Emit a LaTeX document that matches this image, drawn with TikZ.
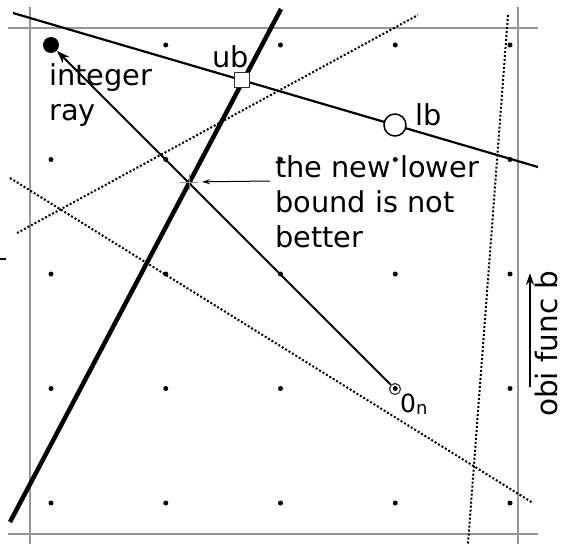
\documentclass[tikz,border=0pt]{standalone}
\usepackage{fontspec}
\setmainfont{DejaVu Sans}
\definecolor{framegray}{RGB}{150,150,150}
\usetikzlibrary{arrows.meta}

\begin{document}
\begin{tikzpicture}[
  x=1pt, y=-1pt,
  gridframe/.style={framegray, line width=2.5pt},
  ubline/.style={black, line width=2.2pt},
  cutline/.style={black, line width=4.5pt},
  dotline/.style={black, line width=2pt, dash pattern=on 2pt off 2pt},
  rayline/.style={-{Stealth[length=13pt, width=9pt, inset=4pt]}, line width=2pt},
  notearrow/.style={-{Stealth[length=8pt, width=5pt]}, line width=1pt, shorten >=13pt},
  objarrow/.style={-{Stealth[length=12pt, width=8pt]}, line width=2pt},
  intdot/.style={circle, fill=black, inner sep=0pt, minimum size=16pt},
  origring/.style={circle, draw=black!80, line width=1.2pt, inner sep=0pt, minimum size=11pt},
  ubbox/.style={rectangle, draw=black!80, fill=white, line width=1.2pt, inner sep=0pt, minimum size=15pt},
  lbcirc/.style={circle, draw=black, fill=white, line width=1.5pt, inner sep=0pt, minimum size=22pt},
  txt/.style={font=\fontsize{28.8}{35}\selectfont, inner sep=0pt, align=left}
]
  \useasboundingbox (0,0) rectangle (563,544);

  % lattice frame and points
  \draw[gridframe] (30,7) -- (30,544);
  \draw[gridframe] (518,7) -- (518,544);
  \draw[gridframe] (8,28) -- (538,28);
  \draw[gridframe] (8,534) -- (538,534);
  \draw[line width=1.5pt] (0,259) -- (6,259);
  \foreach \i in {0,...,4}
    \foreach \j in {0,...,4}
      \fill (51+114.75*\i, 45+114.5*\j) circle (2.5pt);

  % lines
  \coordinate (ubW) at (13,13);
  \coordinate (ubE) at (538,167);
  \coordinate (cutS) at (10,522);
  \coordinate (cutN) at (281,9);
  \coordinate (d1W) at (17,233);
  \coordinate (d1E) at (418,15);
  \coordinate (d2W) at (10,178);
  \coordinate (d2E) at (533,503);
  \coordinate (d3N) at (508,15);
  \coordinate (d3S) at (468,544);
  \draw[dotline] (d1W) -- (d1E);
  \draw[dotline] (d2W) -- (d2E);
  \draw[dotline] (d3N) -- (d3S);
  \draw[ubline] (ubW) -- (ubE);
  \draw[cutline] (cutS) -- (cutN);

  % ray
  \node[intdot] (int) at (51,45) {};
  \node[origring] (orig) at (395,389) {};
  \draw[rayline] (orig) -- (int);
  \coordinate (hit) at (189,182);
  \draw[framegray, line width=1pt] (hit) +(-9,0) -- +(9,0) (hit) +(0,-8) -- +(0,8);

  \node[ubbox] (ub) at (242,80) {};
  \node[lbcirc] (lb) at (395,125) {};

  % labels
  \node[txt, anchor=base west] (inttext) at (49,120) {integer\\ray};
  \node[txt, anchor=base west] (ubtext) at (212,67) {ub};
  \node[txt, anchor=base west] (lbtext) at (415,125) {lb};
  \node[txt, anchor=base west] (note) at (275,247) {the new lower\\bound is not\\better};
  \coordinate (noteTail) at (270,181);
  \draw[notearrow] (noteTail) -- (hit);
  \node[anchor=base west, inner sep=0pt, font=\fontsize{25}{30}\selectfont] (origtext) at (400,412) {0\raisebox{-2.5pt}{\fontsize{18}{18}\selectfont n}};
  \coordinate (objS) at (530,387);
  \coordinate (objN) at (530,273);
  \draw[objarrow] (objS) -- (objN);
  \node[txt, font=\fontsize{29.5}{35}\selectfont, rotate=90, anchor=base west] (objtext) at (557,417) {obi func b};
\end{tikzpicture}
\end{document}
